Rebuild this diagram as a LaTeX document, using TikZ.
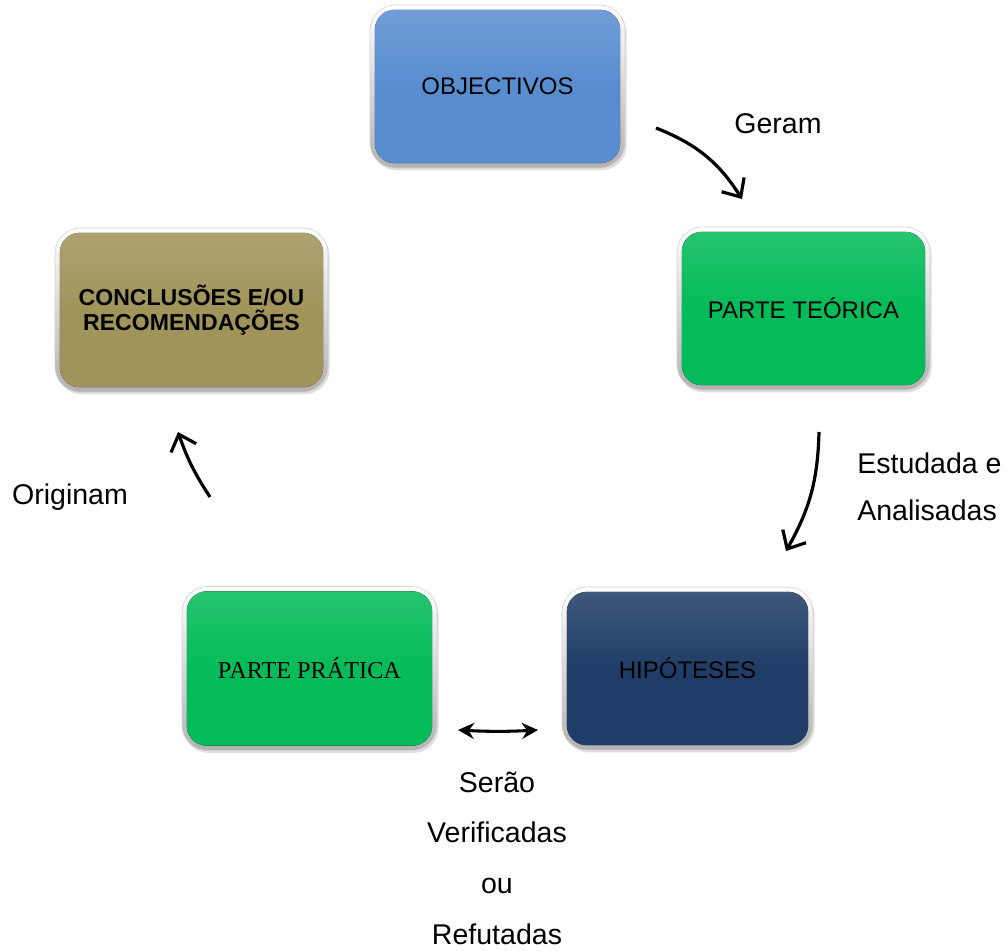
\documentclass[tikz,border=0pt]{standalone}
\usepackage{fontspec}
\setmainfont{Liberation Sans}
\newfontfamily\timesfont{Liberation Serif}
\usetikzlibrary{arrows.meta,shadows}
\definecolor{cblue}{RGB}{88,141,208}
\definecolor{cgreen}{RGB}{3,187,88}
\definecolor{colive}{RGB}{160,148,90}
\definecolor{cnavy}{RGB}{31,61,102}
\tikzset{
  box/.style={rectangle, rounded corners=19pt, top color=white, bottom color=gray!60,
    draw=gray!35, line width=0.4pt, inner sep=0pt, align=center,
    font=\fontsize{18}{21}\selectfont,
    drop shadow={opacity=0.25, shadow xshift=1.2pt, shadow yshift=-1.8pt},
    path picture={\fill[rounded corners=15pt, top color=#1!85!white, bottom color=#1, middle color=#1]
      ([xshift=3.6pt,yshift=-3.6pt]path picture bounding box.north west) rectangle
      ([xshift=-3.6pt,yshift=3.6pt]path picture bounding box.south east);}},
  lbl/.style={font=\fontsize{21.4}{38}\selectfont, inner sep=0pt},
  curvearrow/.style={line width=2.4pt, -{Straight Barb[length=11pt,width=20pt]}},
  dblarrow/.style={line width=2.3pt, {Stealth[length=12pt,width=12pt]}-{Stealth[length=12pt,width=12pt]}}
}
\begin{document}
\begin{tikzpicture}[x=0.75pt,y=-0.75pt]
\useasboundingbox (0,0) rectangle (1007,950);

\node[box=cblue, minimum width=191.25pt, minimum height=122.25pt] (obj) at (497.5,86.5) {OBJECTIVOS};
\node[box=cgreen, minimum width=189.75pt, minimum height=122.25pt] (teo) at (803.5,308.5) {PARTE TEÓRICA};
\node[box=colive, minimum width=204.75pt, minimum height=123pt, font=\fontsize{17.3}{19}\selectfont\bfseries] (con) at (191.5,310) {CONCLUSÕES E/OU\\RECOMENDAÇÕES};
\node[box=cgreen, minimum width=191.25pt, minimum height=123pt, font=\fontsize{18.2}{21}\selectfont\timesfont] (pra) at (309.5,668.5) {PARTE PRÁTICA};
\node[box=cnavy, minimum width=188.25pt, minimum height=122.25pt] (hip) at (687.5,668.5) {HIPÓTESES};

\coordinate (g1) at (656,128);
\coordinate (g2) at (742,199);
\draw[curvearrow] (g1) to[bend left=18] (g2);

\coordinate (e1) at (819,432);
\coordinate (e2) at (786,551);
\draw[curvearrow] (e1) to[bend left=14] (e2);

\coordinate (o1) at (210,497);
\coordinate (o2) at (178,432);
\draw[curvearrow] (o1) to[bend left=7] (o2);

\coordinate (s1) at (458,730);
\coordinate (s2) at (538,730);
\draw[dblarrow] (s1) to[bend right=3] (s2);

\node[lbl] (geram) at (778,124) {Geram};
\node[lbl, align=left, anchor=west, font=\fontsize{21.4}{35.2}\selectfont] (estud) at (857,487) {Estudada e\\Analisadas};
\node[lbl] (orig) at (70,497) {Originam};
\node[lbl, align=center] (serao) at (497,858) {Serão\\Verificadas\\ou\\Refutadas};
\end{tikzpicture}
\end{document}
